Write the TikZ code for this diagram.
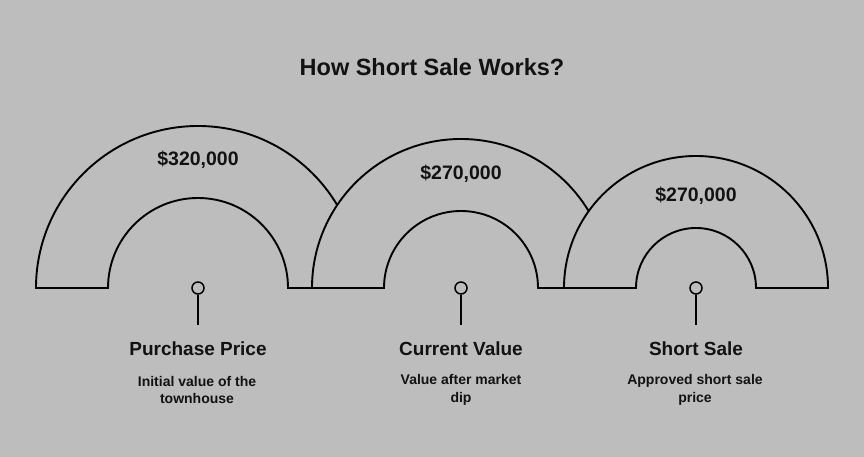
\documentclass[tikz,border=0pt]{standalone}
\usepackage{fontspec}
\setmainfont{Liberation Sans}
\definecolor{bg}{RGB}{189,189,189}
\definecolor{ink}{RGB}{18,18,18}
\begin{document}
\begin{tikzpicture}[x=1pt,y=1pt,
  halfring/.style={fill=bg,draw=black,line width=1.9pt,line join=miter},
  pin/.style={circle,draw=black,fill=bg,line width=1.5pt,minimum size=12pt,inner sep=0pt},
  pinline/.style={draw=black,line width=1.5pt},
  ttl/.style={font=\bfseries\fontsize{23.5}{28}\selectfont,text=ink},
  val/.style={font=\bfseries\fontsize{19.5}{23}\selectfont,text=ink},
  lab/.style={font=\bfseries\fontsize{19}{23}\selectfont,text=ink},
  desc/.style={font=\bfseries\fontsize{14}{17.5}\selectfont,align=center,text=ink}]
\fill[bg] (0,0) rectangle (864,457);
\useasboundingbox (0,0) rectangle (864,457);
\node[ttl] (title) at (432,390) {How Short Sale Works?};
% shape 1
\draw[halfring] (36,169) arc[start angle=180,end angle=0,radius=162] -- (288,169) arc[start angle=0,end angle=180,radius=90] -- cycle;
% shape 2
\draw[halfring] (312,169) arc[start angle=180,end angle=0,radius=149] -- (538,169) arc[start angle=0,end angle=180,radius=77] -- cycle;
% shape 3
\draw[halfring] (564,169) arc[start angle=180,end angle=0,radius=132] -- (756,169) arc[start angle=0,end angle=180,radius=60] -- cycle;
\node[val] (v1) at (198,297.5) {\$320,000};
\node[val] (v2) at (461,283.5) {\$270,000};
\node[val] (v3) at (696,261.5) {\$270,000};
\node[pin] (p1) at (198,169) {};
\node[pin] (p2) at (461,169) {};
\node[pin] (p3) at (696,169) {};
\coordinate (e1) at (198,132);
\coordinate (e2) at (461,132);
\coordinate (e3) at (696,132);
\draw[pinline] (p1) -- (e1);
\draw[pinline] (p2) -- (e2);
\draw[pinline] (p3) -- (e3);
\node[lab] (l1) at (198,108.5) {Purchase Price};
\node[lab] (l2) at (461,108.5) {Current Value};
\node[lab] (l3) at (696,108.5) {Short Sale};
\node[desc] (d1) at (197,67) {Initial value of the\\townhouse};
\node[desc] (d2) at (461,67) {Value after market\\dip};
\node[desc] (d3) at (695,67) {Approved short sale\\price};
\end{tikzpicture}
\end{document}
